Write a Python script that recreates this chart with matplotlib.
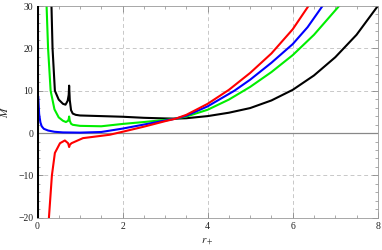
import numpy as np
import matplotlib
matplotlib.use("Agg")
import matplotlib.pyplot as plt
from matplotlib.ticker import MultipleLocator

plt.rcParams['font.family'] = ['Liberation Serif', 'DejaVu Serif']
plt.rcParams['mathtext.fontset'] = 'stix'

# values (r_+, M)
r_black = [0.33, 0.355, 0.41, 0.5, 0.6, 0.66, 0.71, 0.735, 0.745, 0.76, 0.79, 0.83, 0.9, 1.0, 1.5,
           2.0, 2.5, 3.0, 3.25, 3.5, 4.0, 4.5, 5.0, 5.5, 6.0, 6.5, 7.0, 7.5, 8.0]
M_black = [30, 20, 10, 7.9, 6.9, 6.7, 7.6, 9.0, 11.2, 7.8, 5.4, 4.6, 4.3, 4.15, 4.0,
           3.85, 3.6, 3.45, 3.4, 3.5, 4.0, 4.8, 5.9, 7.7, 10.2, 13.6, 17.9, 23.2, 30]

r_green = [0.215, 0.25, 0.31, 0.4, 0.5, 0.6, 0.67, 0.72, 0.735, 0.745, 0.76, 0.79, 0.83, 1.0, 1.5,
           2.0, 2.5, 3.0, 3.25, 3.5, 4.0, 4.5, 5.0, 5.5, 6.0, 6.5, 7.09]
M_green = [30, 20, 10, 5.6, 3.7, 2.9, 2.6, 2.9, 3.3, 3.9, 2.9, 2.2, 1.95, 1.7, 1.6,
           2.15, 2.6, 3.1, 3.4, 3.9, 5.5, 7.9, 10.9, 14.4, 18.4, 23.2, 30]

r_blue = [0.02, 0.04, 0.07, 0.1, 0.15, 0.25, 0.4, 0.6, 1.0, 1.5, 2.0, 2.5, 3.0, 3.25, 3.5,
          4.0, 4.63, 5.0, 5.5, 6.0, 6.35, 6.7]
M_blue = [8.5, 4.5, 2.5, 1.6, 1.0, 0.6, 0.3, 0.15, 0.1, 0.25, 1.05, 2.0, 2.95, 3.4, 4.1,
          6.3, 10.0, 12.6, 16.6, 21.0, 25.0, 30]

r_red = [0.27, 0.34, 0.41, 0.53, 0.645, 0.72, 0.735, 0.745, 0.76, 0.8, 1.07, 1.7, 2.0, 2.5,
         3.0, 3.25, 3.5, 4.0, 4.5, 5.0, 5.5, 6.0, 6.37]
M_red = [-20, -10, -4.7, -2.4, -1.75, -2.4, -2.9, -3.3, -2.8, -2.4, -1.2, -0.4, 0.3, 1.5,
         2.8, 3.4, 4.3, 6.9, 10.2, 14.2, 18.8, 24.5, 30]

fig = plt.figure(figsize=(3.82, 2.5), dpi=100)
ax = fig.add_axes([0.098, 0.129, 0.891, 0.847])

ax.plot(r_black, M_black, color='black', lw=1.5)
ax.plot(r_green, M_green, color='#00ee00', lw=1.5)
ax.plot(r_blue, M_blue, color='#0000ff', lw=1.5)
ax.plot(r_red, M_red, color='#ff0000', lw=1.5)

ax.axhline(0, color='#888888', lw=0.9, zorder=1)
ax.axvline(0, color='black', lw=2.2, zorder=3)

ax.set_xlim(0, 8)
ax.set_ylim(-20, 30)
ax.xaxis.set_major_locator(MultipleLocator(2))
ax.xaxis.set_minor_locator(MultipleLocator(0.5))
ax.yaxis.set_major_locator(MultipleLocator(10))
ax.yaxis.set_minor_locator(MultipleLocator(2))
ax.tick_params(which='both', direction='in', top=True, right=True,
               color='#888888', labelsize=7, labelcolor='#222222', pad=3)
ax.tick_params(which='major', length=4, width=0.6)
ax.tick_params(which='minor', length=2, width=0.5)
for s in ax.spines.values():
    s.set_color('#999999')
    s.set_linewidth(0.6)

# dashed grid
for v in [2, 4, 6]:
    ax.axvline(v, color='#c8c8c8', lw=0.7, ls=(0, (4, 3)), zorder=0)
for v in [-10, 10, 20]:
    ax.axhline(v, color='#c8c8c8', lw=0.7, ls=(0, (4, 3)), zorder=0)

ax.set_xlabel('$r_+$', fontsize=8, color='#222222', labelpad=4)
ax.set_ylabel('$M$', fontsize=8, color='#222222', labelpad=6)

fig.savefig('out.png', dpi=100)
